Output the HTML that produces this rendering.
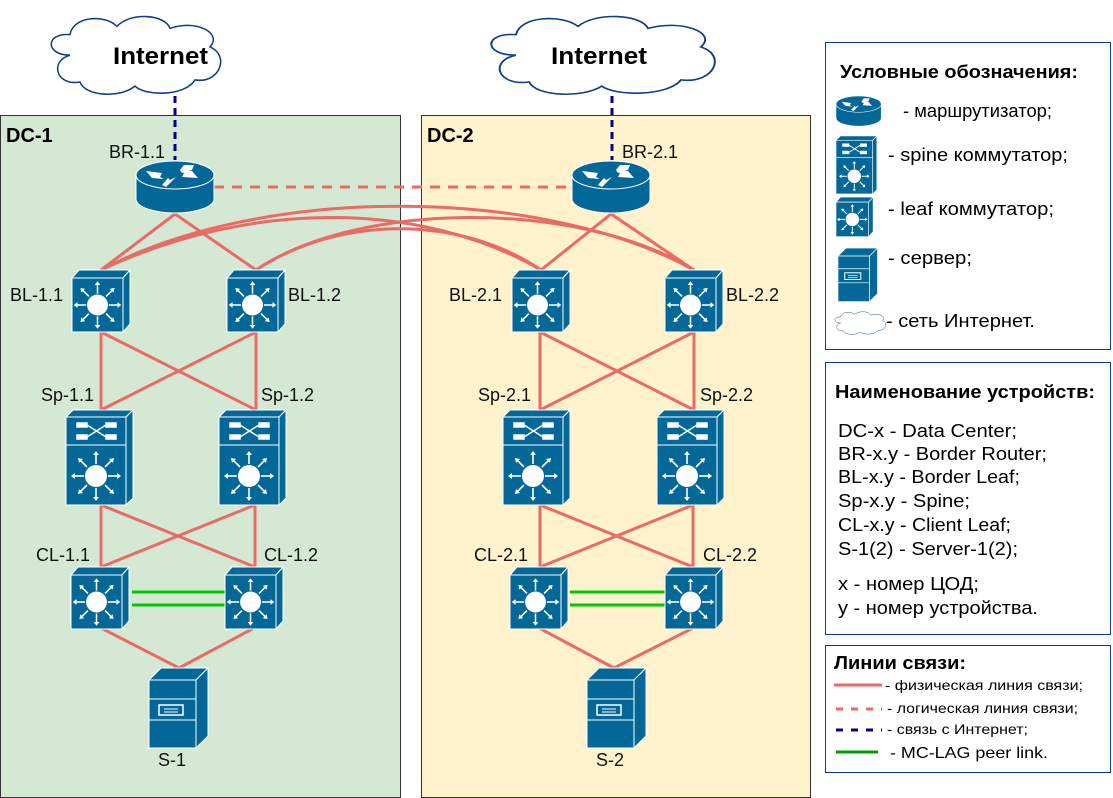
<!DOCTYPE html>
<html><head><meta charset="utf-8"><style>
body{margin:0;background:#fff}
svg{display:block;font-family:"Liberation Sans",Arial,sans-serif}
</style></head><body>
<svg width="1113" height="798" viewBox="0 0 1113 798" xmlns="http://www.w3.org/2000/svg">
<defs>
<g id="star">
 <circle cx="0" cy="0" r="11" fill="#fff"/>
 <g stroke="#fff" stroke-width="1.6">
  <line x1="0" y1="-12" x2="0" y2="-22"/><line x1="0" y1="12" x2="0" y2="22"/>
  <line x1="-12" y1="0" x2="-22" y2="0"/><line x1="12" y1="0" x2="22" y2="0"/>
  <line x1="-9" y1="-9" x2="-16" y2="-16"/><line x1="9" y1="9" x2="16" y2="16"/>
  <line x1="9" y1="-9" x2="16" y2="-16"/><line x1="-9" y1="9" x2="-16" y2="16"/>
 </g>
 <g fill="#fff">
  <polygon points="0,-25 -3,-21 3,-21"/><polygon points="0,25 -3,21 3,21"/>
  <polygon points="-25,0 -21,-3 -21,3"/><polygon points="25,0 21,-3 21,3"/>
  <polygon points="-18,-18 -17,-13 -13,-17"/><polygon points="18,18 17,13 13,17"/>
  <polygon points="18,-18 13,-17 17,-13"/><polygon points="-18,18 -17,13 -13,17"/>
 </g>
</g>
<g id="leaf">
 <polygon points="0,8 7,0 58,0 51,8" fill="#036897" stroke="#fff" stroke-width="1"/>
 <polygon points="51,8 58,0 58,54 51,62" fill="#036897" stroke="#fff" stroke-width="1"/>
 <rect x="0" y="8" width="51" height="54" fill="#036897" stroke="#fff" stroke-width="1"/>
 <use href="#star" transform="translate(25.5,35) scale(0.95)"/>
</g>
<g id="spine">
 <polygon points="0,7 7,0 67,0 60,7" fill="#036897" stroke="#fff" stroke-width="1"/>
 <polygon points="60,7 67,0 67,88 60,95" fill="#036897" stroke="#fff" stroke-width="1"/>
 <rect x="0" y="7" width="60" height="28" fill="#036897" stroke="#fff" stroke-width="1"/>
 <rect x="0" y="35" width="60" height="60" fill="#036897" stroke="#fff" stroke-width="1"/>
 <g stroke="#fff" stroke-width="1.5" fill="#fff">
  <rect x="11" y="13" width="10" height="4"/><rect x="40" y="13" width="10" height="4"/>
  <rect x="11" y="25" width="10" height="4"/><rect x="40" y="25" width="10" height="4"/>
  <line x1="21" y1="15" x2="40" y2="27"/><line x1="21" y1="27" x2="40" y2="15"/>
 </g>
 <use href="#star" transform="translate(30,66)"/>
</g>
<g id="router">
 <path d="M0,14 L0,38 A39,14 0 0 0 78,38 L78,14" fill="#036897" stroke="#fff" stroke-width="1"/>
 <ellipse cx="39" cy="14" rx="39" ry="14" fill="#036897" stroke="#fff" stroke-width="1"/>
 <g fill="#fff">
  <polygon points="10,10 26,12 24,16 28,18 16,17"/>
  <polygon points="48,4 58,4 56,9 46,12 44,9"/>
  <polygon points="62,17 46,16 48,12 44,10 56,10"/>
  <polygon points="26,24 32,17 34,19 40,16 30,26"/>
 </g>
</g>
<g id="server">
 <polygon points="0,12 12,0 59,0 47,12" fill="#036897" stroke="#fff" stroke-width="1"/>
 <polygon points="47,12 59,0 59,68 47,80" fill="#036897" stroke="#fff" stroke-width="1"/>
 <rect x="0" y="12" width="47" height="68" fill="#036897" stroke="#fff" stroke-width="1"/>
 <line x1="0" y1="31" x2="47" y2="31" stroke="#fff"/>
 <line x1="0" y1="52" x2="47" y2="52" stroke="#fff"/>
 <rect x="10" y="37" width="24" height="10" fill="none" stroke="#fff" stroke-width="1.5"/>
 <line x1="15" y1="41" x2="29" y2="41" stroke="#fff"/><line x1="15" y1="44" x2="29" y2="44" stroke="#fff"/>
</g>
<path id="cloud" d="M25,40 C0,40 0,18 25,20 C28,2 60,0 72,12 C85,-2 120,0 125,14 C150,5 178,18 165,32 C185,40 175,68 150,64 C140,80 100,80 90,70 C75,82 40,80 35,66 C10,70 5,45 25,40 Z" fill="#fff" stroke="#0b3f8a" stroke-width="1.5"/>
</defs>

<rect x="0.5" y="115.5" width="400" height="682" fill="#d5e8d4" stroke="#333"/>
<rect x="421.5" y="115.5" width="389" height="682" fill="#fff2cc" stroke="#333"/>
<text x="6" y="142" font-size="20" font-weight="bold">DC-1</text>
<text x="427" y="142" font-size="20" font-weight="bold">DC-2</text>

<use href="#cloud" transform="translate(45,14) scale(1.0,1.03)"/>
<use href="#cloud" transform="translate(483,14) scale(1.32,1.03)"/>
<text x="113" y="64" font-size="24" font-weight="bold" textLength="95" lengthAdjust="spacingAndGlyphs">Internet</text>
<text x="551" y="64" font-size="24" font-weight="bold" textLength="96" lengthAdjust="spacingAndGlyphs">Internet</text>

<line x1="175" y1="96" x2="175" y2="160" stroke="#00008b" stroke-width="3" stroke-dasharray="7,5"/>
<line x1="612" y1="96" x2="612" y2="160" stroke="#00008b" stroke-width="3" stroke-dasharray="7,5"/>
<line x1="214" y1="187" x2="572" y2="187" stroke="#ea6b66" stroke-width="3" stroke-dasharray="10,8"/>

<g stroke="#ea6b66" stroke-width="3" fill="none">
 <line x1="175" y1="214" x2="101" y2="270"/><line x1="175" y1="214" x2="256" y2="270"/>
 <line x1="611" y1="214" x2="541" y2="270"/><line x1="611" y1="214" x2="694" y2="270"/>
 <path d="M101,270 C250,200 420,200 541,270"/>
 <path d="M101,270 C260,185 540,185 694,270"/>
 <path d="M256,270 C340,215 460,215 541,270"/>
 <path d="M256,270 C360,200 580,200 694,270"/>
 <line x1="101" y1="332" x2="101" y2="410"/><line x1="256" y1="332" x2="256" y2="410"/>
 <line x1="101" y1="332" x2="256" y2="410"/><line x1="256" y1="332" x2="101" y2="410"/>
 <line x1="540" y1="332" x2="540" y2="410"/><line x1="694" y1="332" x2="694" y2="410"/>
 <line x1="540" y1="332" x2="694" y2="410"/><line x1="694" y1="332" x2="540" y2="410"/>
 <line x1="101" y1="505" x2="101" y2="567"/><line x1="255" y1="505" x2="255" y2="567"/>
 <line x1="101" y1="505" x2="255" y2="567"/><line x1="255" y1="505" x2="101" y2="567"/>
 <line x1="540" y1="505" x2="540" y2="567"/><line x1="693" y1="505" x2="693" y2="567"/>
 <line x1="540" y1="505" x2="693" y2="567"/><line x1="693" y1="505" x2="540" y2="567"/>
 <line x1="101" y1="628" x2="179" y2="668"/><line x1="254" y1="628" x2="179" y2="668"/>
 <line x1="539" y1="628" x2="614" y2="668"/><line x1="693" y1="628" x2="614" y2="668"/>
</g>
<g stroke="#00c800" stroke-width="3">
 <line x1="132" y1="592" x2="225" y2="592"/><line x1="132" y1="605" x2="225" y2="605"/>
 <line x1="570" y1="592" x2="665" y2="592"/><line x1="570" y1="605" x2="665" y2="605"/>
</g>

<use href="#router" transform="translate(136,161)"/>
<use href="#router" transform="translate(572,161)"/>
<use href="#leaf" transform="translate(72,270)"/>
<use href="#leaf" transform="translate(227,270)"/>
<use href="#leaf" transform="translate(512,270)"/>
<use href="#leaf" transform="translate(665,270)"/>
<use href="#spine" transform="translate(66,410)"/>
<use href="#spine" transform="translate(219,410)"/>
<use href="#spine" transform="translate(503,410)"/>
<use href="#spine" transform="translate(657,410)"/>
<use href="#leaf" transform="translate(71,567)"/>
<use href="#leaf" transform="translate(225,567)"/>
<use href="#leaf" transform="translate(510,567)"/>
<use href="#leaf" transform="translate(665,567)"/>
<use href="#server" transform="translate(149,668)"/>
<use href="#server" transform="translate(587,668)"/>

<g font-size="18" fill="#111">
 <text x="109" y="158">BR-1.1</text>
 <text x="622" y="158">BR-2.1</text>
 <text x="10" y="301">BL-1.1</text>
 <text x="288" y="301">BL-1.2</text>
 <text x="449" y="301">BL-2.1</text>
 <text x="726" y="301">BL-2.2</text>
 <text x="41" y="401">Sp-1.1</text>
 <text x="261" y="401">Sp-1.2</text>
 <text x="478" y="401">Sp-2.1</text>
 <text x="700" y="401">Sp-2.2</text>
 <text x="36" y="561">CL-1.1</text>
 <text x="264" y="561">CL-1.2</text>
 <text x="474" y="561">CL-2.1</text>
 <text x="703" y="561">CL-2.2</text>
 <text x="158" y="766">S-1</text>
 <text x="596" y="766">S-2</text>
</g>

<rect x="825.5" y="42.5" width="285" height="307" fill="#fff" stroke="#0b3f8a"/>
<text x="840" y="78" font-size="18" font-weight="bold" textLength="238" lengthAdjust="spacingAndGlyphs">Условные обозначения:</text>
<use href="#router" transform="translate(836,96) scale(0.58)"/>
<text x="903" y="117" font-size="18" textLength="149" lengthAdjust="spacingAndGlyphs">- маршрутизатор;</text>
<use href="#spine" transform="translate(836,136) scale(0.61)"/>
<text x="888" y="161" font-size="18" textLength="180" lengthAdjust="spacingAndGlyphs">- spine коммутатор;</text>
<use href="#leaf" transform="translate(836,197) scale(0.64)"/>
<text x="888" y="215" font-size="18" textLength="166" lengthAdjust="spacingAndGlyphs">- leaf коммутатор;</text>
<use href="#server" transform="translate(838,248) scale(0.67)"/>
<text x="888" y="264" font-size="18" textLength="84" lengthAdjust="spacingAndGlyphs">- сервер;</text>
<use href="#cloud" transform="translate(833,311) scale(0.3,0.3)"/>
<text x="886" y="327" font-size="18" textLength="149" lengthAdjust="spacingAndGlyphs">- сеть Интернет.</text>

<rect x="825.5" y="362.5" width="285" height="272" fill="#fff" stroke="#0b3f8a"/>
<text x="835" y="398" font-size="18" font-weight="bold" textLength="260" lengthAdjust="spacingAndGlyphs">Наименование устройств:</text>
<g font-size="18">
 <text x="838" y="437" textLength="179" lengthAdjust="spacingAndGlyphs">DC-x - Data Center;</text>
 <text x="838" y="460" textLength="209" lengthAdjust="spacingAndGlyphs">BR-x.y - Border Router;</text>
 <text x="838" y="483" textLength="182" lengthAdjust="spacingAndGlyphs">BL-x.y - Border Leaf;</text>
 <text x="838" y="507" textLength="132" lengthAdjust="spacingAndGlyphs">Sp-x.y - Spine;</text>
 <text x="838" y="531" textLength="173" lengthAdjust="spacingAndGlyphs">CL-x.y - Client Leaf;</text>
 <text x="838" y="555" textLength="180" lengthAdjust="spacingAndGlyphs">S-1(2) - Server-1(2);</text>
 <text x="838" y="590" textLength="141" lengthAdjust="spacingAndGlyphs">x - номер ЦОД;</text>
 <text x="838" y="614" textLength="200" lengthAdjust="spacingAndGlyphs">y - номер устройства.</text>
</g>

<rect x="825.5" y="645.5" width="285" height="127" fill="#fff" stroke="#0b3f8a"/>
<text x="834" y="669" font-size="18" font-weight="bold" textLength="132" lengthAdjust="spacingAndGlyphs">Линии связи:</text>
<line x1="834" y1="685" x2="882" y2="685" stroke="#ea6b66" stroke-width="3"/>
<text x="885" y="690" font-size="14" textLength="198" lengthAdjust="spacingAndGlyphs">- физическая линия связи;</text>
<line x1="836" y1="709" x2="882" y2="709" stroke="#ea6b66" stroke-width="3" stroke-dasharray="7,8"/>
<text x="887" y="713" font-size="14" textLength="191" lengthAdjust="spacingAndGlyphs">- логическая линия связи;</text>
<line x1="836" y1="730" x2="882" y2="730" stroke="#00008b" stroke-width="3" stroke-dasharray="7,8"/>
<text x="887" y="734" font-size="14" textLength="141" lengthAdjust="spacingAndGlyphs">- связь с Интернет;</text>
<line x1="836" y1="752" x2="878" y2="752" stroke="#00a000" stroke-width="3"/>
<text x="890" y="758" font-size="16" textLength="158" lengthAdjust="spacingAndGlyphs">- MC-LAG peer link.</text>
</svg>
</body></html>
